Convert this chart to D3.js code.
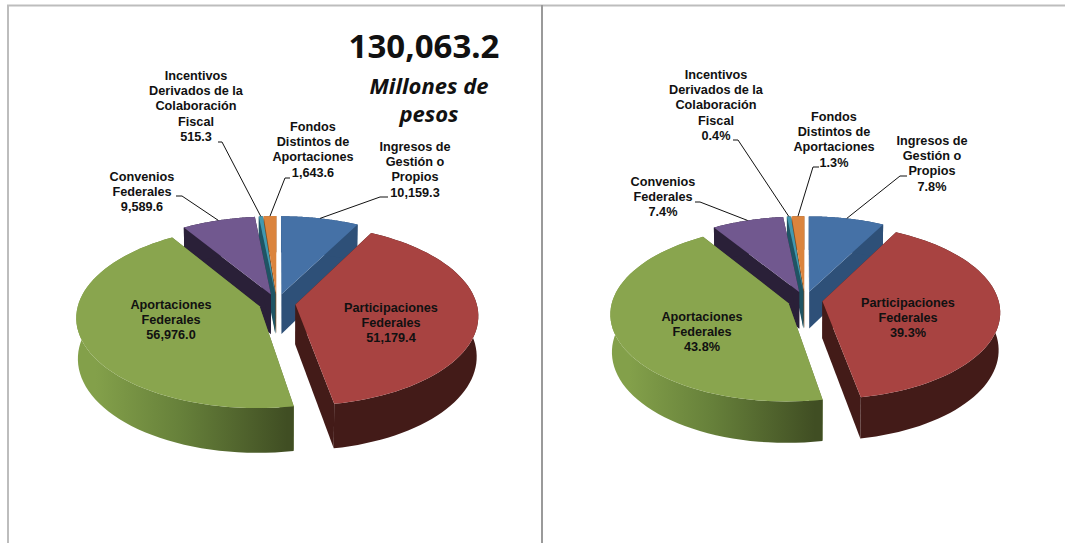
<!DOCTYPE html>
<html>
<head>
<meta charset="utf-8">
<script src="https://cdn.jsdelivr.net/npm/d3@7"></script>
<style>
  html, body { margin: 0; padding: 0; background: #fff; }
  svg { display: block; }
  text { font-family: "Liberation Sans", Arial, sans-serif; font-weight: bold; fill: #111; }
</style>
</head>
<body>
<div id="chart"></div>
<script>
// data
const categories = [
  "Ingresos de Gestión o Propios",
  "Participaciones Federales",
  "Aportaciones Federales",
  "Convenios Federales",
  "Incentivos Derivados de la Colaboración Fiscal",
  "Fondos Distintos de Aportaciones"
];
const amounts = [10159.3, 51179.4, 56976.0, 9589.6, 515.3, 1643.6];
const shares = [7.8, 39.3, 43.8, 7.4, 0.4, 1.3];
const total = "130,063.2";

const topColors = ["#4571a6", "#a84341", "#89a54e", "#71588f", "#4198af", "#db843d"];
const sideColors = ["#2e5078", "#431b18", "#5f7337", "#2a2038", "#1f5464", "#8a5020"];

// label lines per slice, the value is added as the last line
const labelLines = [
  ["Ingresos de", "Gestión o", "Propios"],
  ["Participaciones", "Federales"],
  ["Aportaciones", "Federales"],
  ["Convenios", "Federales"],
  ["Incentivos", "Derivados de la", "Colaboración", "Fiscal"],
  ["Fondos", "Distintos de", "Aportaciones"]
];

const width = 1065, height = 543;

const svg = d3.select("#chart").append("svg")
  .attr("width", width)
  .attr("height", height);

const defs = svg.append("defs");

// frame lines around the two panels
const frame = svg.append("g").attr("fill", "none");
frame.append("path").attr("d", "M8,544V5.5H1065").attr("stroke", "#bdbdbd").attr("stroke-width", 2);
frame.append("path").attr("d", "M542,5V544").attr("stroke", "#9a9a9a").attr("stroke-width", 2);

// slices start at 12 o'clock, in the order of the arrays
const pie = d3.pie().sort(null).value(d => d);

function drawPie(cfg) {
  const g = svg.append("g");
  const arcs = pie(cfg.values);

  // ground plane -> screen, with a bit of perspective (back smaller than front)
  function project(u, v, z) {
    const w = 1 + cfg.persp * v + 0.008 * z;
    return [cfg.cx + cfg.rx * u / w, cfg.cy + (-cfg.ry * v + cfg.depth * z) / w];
  }
  // point on a slice which has been pulled out along its bisector
  function slicePoint(d, angle, r, z) {
    const mid = (d.startAngle + d.endAngle) / 2;
    const u = r * Math.sin(angle) + cfg.explode * Math.sin(mid);
    const v = r * Math.cos(angle) + cfg.explode * Math.cos(mid);
    return project(u, v, z);
  }
  const line = d3.line();
  const rimAngles = d => d3.range(0, 61).map(i => d.startAngle + (d.endAngle - d.startAngle) * i / 60);

  // green wall has the long shaded gradient
  const gradId = "wall" + cfg.id;
  const grad = defs.append("linearGradient").attr("id", gradId)
    .attr("gradientUnits", "userSpaceOnUse")
    .attr("x1", cfg.cx - cfg.rx).attr("x2", cfg.cx + 10).attr("y1", 0).attr("y2", 0);
  grad.append("stop").attr("offset", 0).attr("stop-color", "#83a04a");
  grad.append("stop").attr("offset", 0.45).attr("stop-color", "#66803a");
  grad.append("stop").attr("offset", 1).attr("stop-color", "#404e23");

  // paint from back to front
  const order = [0, 5, 4, 3, 1, 2];
  order.forEach(i => {
    const d = arcs[i];
    const slice = g.append("g");
    const side = i === 2 ? `url(#${gradId})` : sideColors[i];

    // cut faces
    [d.startAngle, d.endAngle].forEach(a => {
      slice.append("path")
        .attr("fill", sideColors[i])
        .attr("d", line([
          slicePoint(d, a, 0, 0), slicePoint(d, a, 1, 0),
          slicePoint(d, a, 1, 1), slicePoint(d, a, 0, 1)
        ]) + "Z");
    });

    // outer wall
    const rim = rimAngles(d);
    slice.append("path")
      .attr("fill", side)
      .attr("d", line(rim.map(a => slicePoint(d, a, 1, 0))
        .concat(rim.slice().reverse().map(a => slicePoint(d, a, 1, 1)))) + "Z");

    // top face
    slice.append("path")
      .attr("fill", topColors[i])
      .attr("d", line([slicePoint(d, d.startAngle, 0, 0)]
        .concat(rim.map(a => slicePoint(d, a, 1, 0)))) + "Z");
  });

  // leader lines end on the rim of their slice
  cfg.labels.forEach((l, i) => {
    if (!l.elbow) return;
    const d = arcs[i];
    const p = slicePoint(d, (d.startAngle + d.endAngle) / 2, 1, 0);
    g.append("path")
      .attr("fill", "none")
      .attr("stroke", "#111")
      .attr("stroke-width", 1)
      .attr("d", line(l.elbow.concat([[p[0], p[1]]])));
  });

  // labels
  cfg.labels.forEach((l, i) => {
    const t = g.append("text")
      .attr("text-anchor", "middle")
      .attr("font-size", 12.7);
    labelLines[i].concat([cfg.format(cfg.values[i])]).forEach((s, k) => {
      t.append("tspan").attr("x", l.x).attr("y", l.y + k * 15.2).text(s);
    });
  });
}

const fmtAmount = d3.format(",.1f");
const fmtShare = d => d.toFixed(1) + "%";

drawPie({
  id: "L", values: amounts, format: fmtAmount,
  cx: 277, cy: 303, rx: 181, ry: 89, persp: 0.117, depth: 40.5, explode: 0.103,
  labels: [
    {x: 415, y: 151, elbow: [[388, 197], [380, 197]]},
    {x: 391, y: 312},
    {x: 171, y: 309},
    {x: 142, y: 181, elbow: [[176, 196], [182, 196]]},
    {x: 196, y: 80, elbow: [[218, 142], [222, 142]]},
    {x: 313, y: 131, elbow: [[290, 178], [285, 178]]}
  ]
});

drawPie({
  id: "R", values: shares, format: fmtShare,
  cx: 805, cy: 300, rx: 176, ry: 86, persp: 0.117, depth: 37.5, explode: 0.1,
  labels: [
    {x: 932, y: 145, elbow: [[907, 176], [900, 176]]},
    {x: 908, y: 307},
    {x: 702, y: 321},
    {x: 663, y: 186, elbow: [[695, 202], [700, 202]]},
    {x: 716, y: 79, elbow: [[733, 140], [738, 140]]},
    {x: 834, y: 121, elbow: [[819, 167], [813, 167]]}
  ]
});

// headline of the left panel
svg.append("text").attr("x", 424).attr("y", 57.5)
  .attr("text-anchor", "middle")
  .style("font-family", "'Noto Sans'").style("font-size", "33px")
  .text(total);
const unit = svg.append("text")
  .attr("text-anchor", "middle")
  .style("font-family", "'Noto Sans'").style("font-style", "italic").style("font-size", "22px");
unit.append("tspan").attr("x", 429).attr("y", 94).text("Millones de");
unit.append("tspan").attr("x", 429).attr("y", 122).text("pesos");
</script>
</body>
</html>
